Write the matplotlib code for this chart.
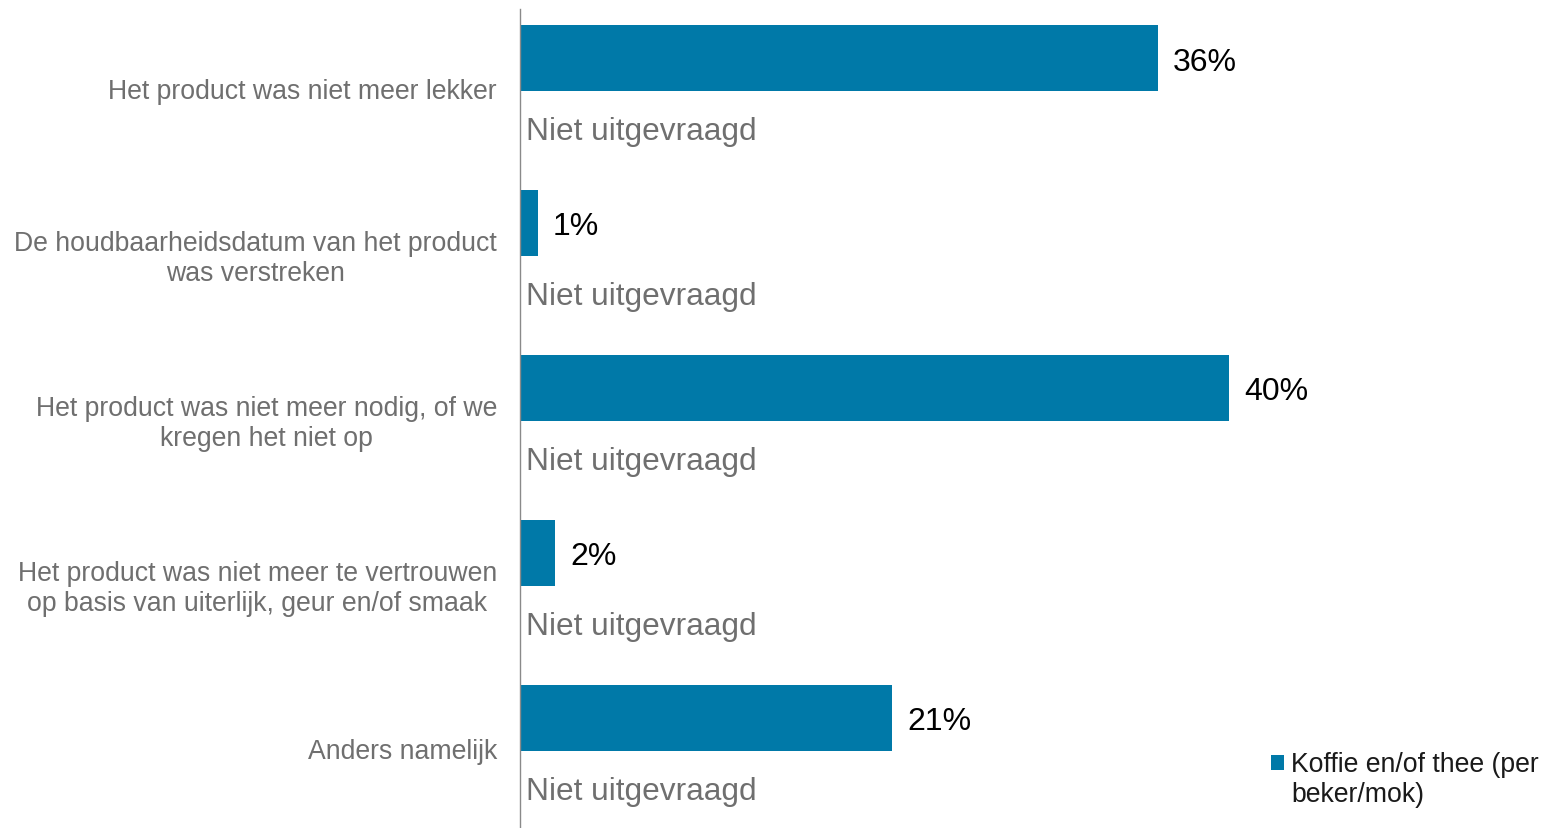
import matplotlib
matplotlib.use("Agg")
import matplotlib.pyplot as plt
import matplotlib.transforms as mtransforms
from matplotlib.patches import Patch, Rectangle
from matplotlib.legend_handler import HandlerPatch

plt.rcParams['font.family'] = ['Liberation Sans', 'DejaVu Sans']

categories = [
    "Het product was niet meer lekker",
    "De houdbaarheidsdatum van het product\nwas verstreken",
    "Het product was niet meer nodig, of we\nkregen het niet op",
    "Het product was niet meer te vertrouwen\nop basis van uiterlijk, geur en/of smaak",
    "Anders namelijk",
]
values = [36, 1, 40, 2, 21]
value_labels = ["36%", "1%", "40%", "2%", "21%"]
other_labels = ["Niet uitgevraagd"] * 5
series_name = "Koffie en/of thee (per\nbeker/mok)"

BAR = "#0079A8"
GREY = "#6F6F6F"

W, H = 1543, 829
fig = plt.figure(figsize=(W / 100, H / 100), dpi=100)
ax = fig.add_axes([520 / W, 0, (W - 520) / W, (H - 10) / H])

pos = list(range(len(categories)))
bar_pos = [p - 0.2 for p in pos]
ax.barh(bar_pos, values, height=0.4, color=BAR)

for bp, v, lab in zip(bar_pos, values, value_labels):
    ax.annotate(lab, (v, bp), xytext=(11, 0), textcoords="offset points",
                ha="left", va="center_baseline", fontsize=23, color="black")

for p, lab in zip(pos, other_labels):
    ax.annotate(lab, (0, p + 0.22), xytext=(4.5, 0), textcoords="offset points",
                ha="left", va="center_baseline", fontsize=22.8, color=GREY)

ax.set_xlim(0, (W - 520) / 17.72)
ax.set_ylim(4.467, -0.497)
ax.set_yticks(pos)
ax.set_yticklabels(categories, fontsize=19.2, color=GREY, multialignment="center",
                   linespacing=1.2)
ax.tick_params(axis="y", length=0, pad=16.5)
shift = mtransforms.ScaledTranslation(0, 2 / 72, fig.dpi_scale_trans)
for lbl in ax.get_yticklabels():
    lbl.set_transform(lbl.get_transform() + shift)
ax.set_xticks([])
for s in ["top", "right", "bottom"]:
    ax.spines[s].set_visible(False)
ax.spines["left"].set_color("#8A8A8A")
ax.spines["left"].set_linewidth(1.0)


def square_first_line(legend, orig_handle, xdescent, ydescent, width, height, fontsize):
    return Rectangle((-xdescent, -ydescent + 12.2), width, height)


handle = Patch(facecolor=BAR, edgecolor="none")
fig.legend([handle], [series_name], loc="upper left",
           bbox_to_anchor=(1271 / W, 1 - 752 / H), frameon=False,
           fontsize=19.2, handlelength=0.5, handleheight=0.5,
           handletextpad=0.25, borderpad=0, borderaxespad=0,
           labelcolor="#1A1A1A",
           handler_map={Patch: HandlerPatch(patch_func=square_first_line)})

fig.savefig("out.png", dpi=100)
